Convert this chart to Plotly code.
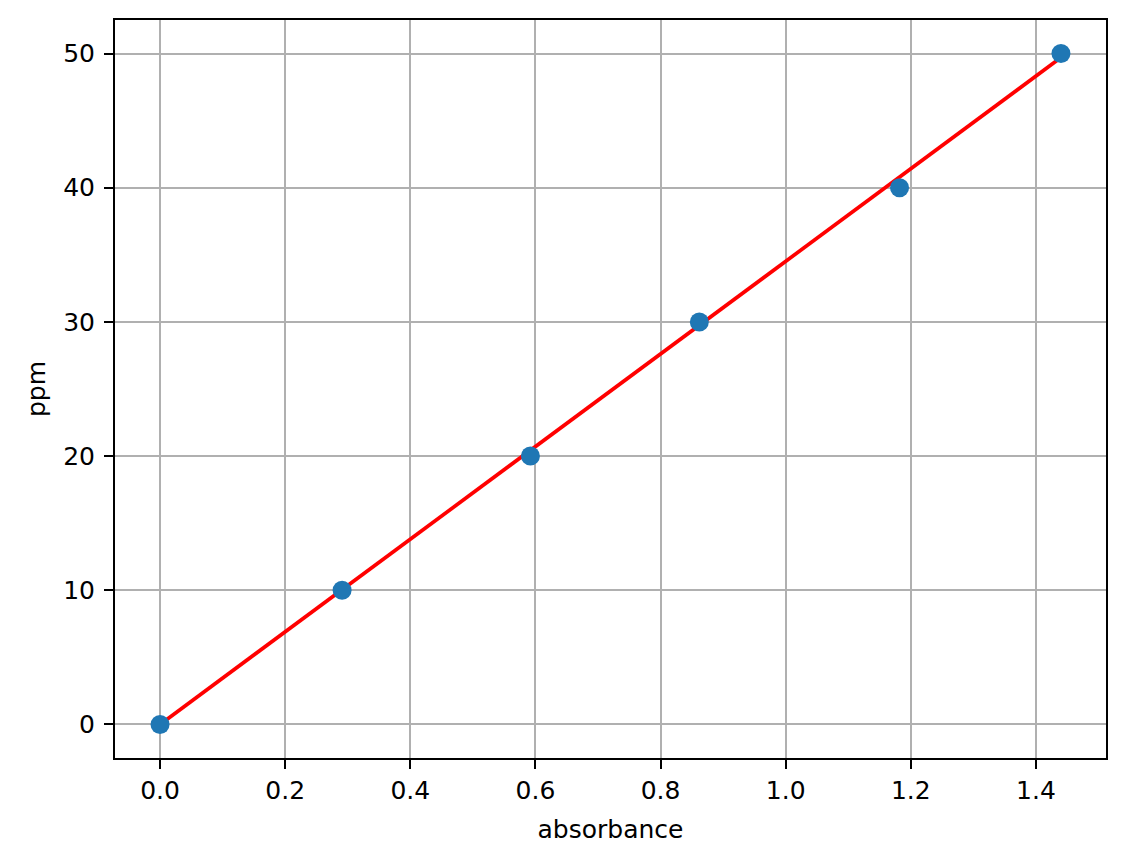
import plotly.graph_objects as go

absorbance = [0.0, 0.291, 0.592, 0.862, 1.182, 1.44]
ppm = [0, 10, 20, 30, 40, 50]
fit_x = [0.0, 1.44]
fit_y = [0.0, 49.7]

x_ticks = [0.0, 0.2, 0.4, 0.6, 0.8, 1.0, 1.2, 1.4]
x_ticklabels = ["0.0", "0.2", "0.4", "0.6", "0.8", "1.0", "1.2", "1.4"]
y_ticks = [0, 10, 20, 30, 40, 50]

fig = go.Figure()
fig.add_trace(go.Scatter(x=fit_x, y=fit_y, mode="lines",
                         line=dict(color="red", width=3.7), showlegend=False))
fig.add_trace(go.Scatter(x=absorbance, y=ppm, mode="markers",
                         marker=dict(color="#1f77b4", size=19), showlegend=False))

font = dict(family="DejaVu Sans", size=25, color="black")
axis_common = dict(showline=True, linecolor="black", linewidth=2, mirror=True,
                   ticks="outside", ticklen=9, tickwidth=2, tickcolor="black",
                   showgrid=True, gridcolor="#b0b0b0", gridwidth=2,
                   zeroline=False, tickfont=font)

fig.update_xaxes(range=[-0.072, 1.512], tickvals=x_ticks, ticktext=x_ticklabels,
                 ticklabelstandoff=0,
                 title=dict(text="absorbance", font=font, standoff=16), **axis_common)
fig.update_yaxes(range=[-2.5, 52.5], tickvals=y_ticks, ticklabelstandoff=4,
                 title=dict(text="ppm", font=font, standoff=10), **axis_common)

fig.update_layout(width=1110, height=849, plot_bgcolor="white", paper_bgcolor="white",
                  margin=dict(l=107, r=12, t=10, b=99), font=font)

fig.write_html("out.html")
